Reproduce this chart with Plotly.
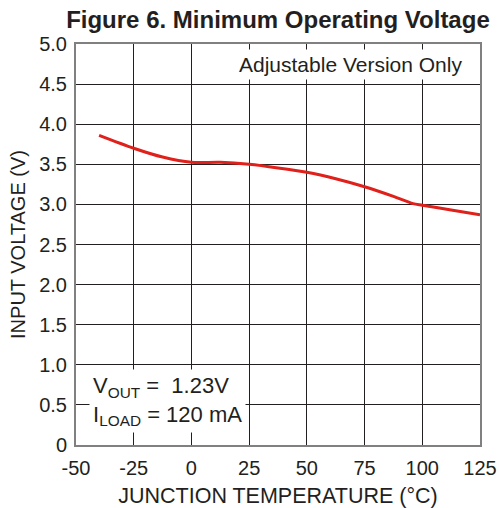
import plotly.graph_objects as go

temps = [-40, -25, -12.5, 0, 12.5, 25, 37.5, 50, 62.5, 75, 87.5, 96, 100, 112.5, 125]
volts = [3.86, 3.70, 3.59, 3.525, 3.525, 3.50, 3.455, 3.40, 3.32, 3.22, 3.10, 3.01, 2.99, 2.93, 2.87]

x_ticks = [-50, -25, 0, 25, 50, 75, 100, 125]
y_ticks = [0, 0.5, 1.0, 1.5, 2.0, 2.5, 3.0, 3.5, 4.0, 4.5, 5.0]
y_labels = ["0", "0.5", "1.0", "1.5", "2.0", "2.5", "3.0", "3.5", "4.0", "4.5", "5.0"]

FONT = "Liberation Sans, Arial, sans-serif"
INK = "#231f20"

fig = go.Figure()
fig.add_trace(go.Scatter(
    x=temps, y=volts, mode="lines",
    line=dict(color="#e0201b", width=3, shape="spline", smoothing=0.8),
    hoverinfo="skip", showlegend=False,
))

fig.update_layout(
    width=499, height=508,
    margin=dict(l=76, r=19, t=44, b=63),
    paper_bgcolor="white", plot_bgcolor="white",
    font=dict(family=FONT, size=20, color=INK),
    title=dict(text="<b>Figure 6. Minimum Operating Voltage</b>",
               x=0.557, xanchor="center", y=0.961, yanchor="middle",
               font=dict(family=FONT, size=24, color=INK)),
    xaxis=dict(range=[-50, 125], tickvals=x_ticks, ticktext=[str(v) for v in x_ticks],
               showgrid=True, gridcolor=INK, gridwidth=1,
               showline=True, linecolor="#808080", linewidth=2, mirror=True,
               zeroline=False, ticks="", ticklabelstandoff=4, automargin=False,
               tickfont=dict(family=FONT, size=20, color=INK),
               title=dict(text="JUNCTION TEMPERATURE (°C)", standoff=12,
                          font=dict(family=FONT, size=21.5, color=INK))),
    yaxis=dict(range=[0, 5], tickvals=y_ticks, ticktext=y_labels,
               showgrid=True, gridcolor=INK, gridwidth=1,
               showline=True, linecolor="#808080", linewidth=2, mirror=True,
               zeroline=False, ticks="", ticklabelstandoff=3, automargin=False,
               tickfont=dict(family=FONT, size=20, color=INK),
               title=dict(text="INPUT VOLTAGE (V)", standoff=8,
                          font=dict(family=FONT, size=20, color=INK))),
)

fig.add_annotation(
    xref="paper", yref="paper", x=0.965, y=0.95, xanchor="right", yanchor="middle",
    text="Adjustable Version Only", showarrow=False,
    bgcolor="white", borderpad=3, font=dict(family=FONT, size=21, color=INK),
)
fig.add_annotation(
    xref="paper", yref="paper", x=0.033, y=0.11, xanchor="left", yanchor="middle",
    text="V<sub>OUT</sub> =  1.23V<br>I<sub>LOAD</sub> = 120 mA", showarrow=False,
    align="left", bgcolor="white", borderpad=3,
    font=dict(family=FONT, size=22, color=INK),
)

# remove the browser's default 8px body margin so the figure fills the window exactly
fig.write_html("out.html", config={"displayModeBar": False},
               post_script="document.body.style.margin='0';")
